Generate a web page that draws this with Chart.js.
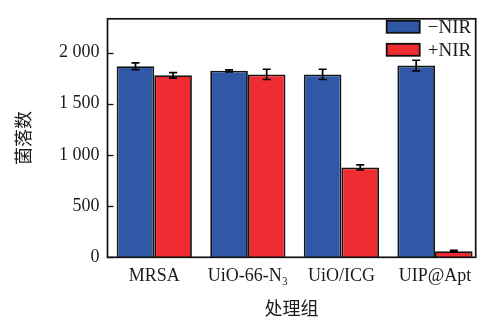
<!DOCTYPE html>
<html>
<head>
<meta charset="utf-8">
<script src="https://cdn.jsdelivr.net/npm/chart.js@4/dist/chart.umd.min.js"></script>
<style>
  html, body { margin: 0; padding: 0; background: #ffffff; }
  #wrap { width: 485px; height: 320px; position: relative; }
</style>
</head>
<body>
<div id="wrap"><canvas id="c" width="485" height="320"></canvas></div>
<script>
// Treatment groups (x axis)
const groups = ['MRSA', 'UiO-66-N\u2083', 'UiO/ICG', 'UIP@Apt'];
// Colony counts without / with near-infrared irradiation
const noNir = [1866, 1822, 1787, 1873];
const withNir = [1778, 1787, 878, 60];
// Standard deviations shown as error bars
const noNirErr = [33, 10, 50, 52];
const withNirErr = [27, 50, 25, 8];
// Y axis ticks
const yTicks = [0, 500, 1000, 1500, 2000];
const yMax = 2330;

const serif = "'Liberation Serif', 'Times New Roman', 'DejaVu Serif', serif";
const cjk = "'Noto Sans CJK SC', 'Noto Sans', sans-serif";
const ink = '#1a1a1a';

const toPoints = arr => arr.map((v, i) => ({ x: i, y: v }));

const errorBars = {
  id: 'errorBars',
  afterDatasetsDraw(chart) {
    const ctx = chart.ctx;
    const ys = chart.scales.y;
    ctx.save();
    ctx.strokeStyle = '#000';
    ctx.lineWidth = 1.7;
    chart.data.datasets.forEach((ds, di) => {
      const meta = chart.getDatasetMeta(di);
      meta.data.forEach((bar, i) => {
        const v = ds.data[i].y;
        const e = ds.errors[i];
        const top = ys.getPixelForValue(v + e);
        const bot = ys.getPixelForValue(v - e);
        const cap = 4;
        ctx.beginPath();
        ctx.moveTo(bar.x, top); ctx.lineTo(bar.x, bot);
        ctx.moveTo(bar.x - cap, top); ctx.lineTo(bar.x + cap, top);
        ctx.moveTo(bar.x - cap, bot); ctx.lineTo(bar.x + cap, bot);
        ctx.stroke();
      });
    });
    ctx.restore();
  }
};

const frameAndTicks = {
  id: 'frameAndTicks',
  afterDraw(chart) {
    const { ctx, chartArea: a } = chart;
    const ys = chart.scales.y;
    ctx.save();
    ctx.strokeStyle = '#111';
    ctx.lineWidth = 1.7;
    ctx.strokeRect(a.left, a.top, a.right - a.left, a.bottom - a.top);
    ctx.lineWidth = 1.3;
    ys.ticks.forEach(t => {
      const y = Math.round(ys.getPixelForValue(t.value)) + 0.5;
      ctx.beginPath();
      ctx.moveTo(a.left, y);
      ctx.lineTo(a.left + 6, y);
      ctx.stroke();
    });
    ctx.restore();
  }
};

const insideLegend = {
  id: 'insideLegend',
  afterDraw(chart) {
    const { ctx, chartArea: a } = chart;
    ctx.save();
    const bx = a.right - 89;
    chart.data.datasets.forEach((ds, i) => {
      const by = a.top + 2 + i * 23;
      ctx.fillStyle = ds.backgroundColor;
      ctx.fillRect(bx, by, 33, 12);
      ctx.strokeStyle = '#111';
      ctx.lineWidth = 1.8;
      ctx.strokeRect(bx, by, 33, 12);
      ctx.fillStyle = ink;
      ctx.font = '19px ' + serif;
      ctx.textBaseline = 'middle';
      ctx.textAlign = 'left';
      ctx.fillText(ds.label, bx + 41, by + 7);
    });
    ctx.restore();
  }
};

new Chart(document.getElementById('c'), {
  type: 'bar',
  data: {
    datasets: [
      {
        label: '\u2212NIR',
        data: toPoints(noNir),
        errors: noNirErr,
        backgroundColor: '#3058a6',
        borderColor: '#151515',
        borderWidth: 1.8
      },
      {
        label: '+NIR',
        data: toPoints(withNir),
        errors: withNirErr,
        backgroundColor: '#ee2c31',
        borderColor: '#151515',
        borderWidth: 1.8
      }
    ]
  },
  options: {
    responsive: false,
    animation: false,
    events: [],
    layout: { padding: { left: 0, right: 9.3, top: 13.3, bottom: 0 } },
    categoryPercentage: 0.804,
    barPercentage: 1.0,
    plugins: {
      legend: { display: false },
      tooltip: { enabled: false }
    },
    scales: {
      x: {
        type: 'linear',
        offset: false,
        min: -0.5,
        max: 3.435,
        grid: { display: false, drawTicks: false },
        border: { display: false },
        afterBuildTicks: s => { s.ticks = groups.map((g, i) => ({ value: i })); },
        afterFit: s => { s.height = 62.7; },
        ticks: {
          autoSkip: false,
          maxRotation: 0,
          padding: 8,
          color: ink,
          font: { family: serif, size: 18 },
          callback: v => groups[v]
        },
        title: {
          display: true,
          text: '处理组',
          color: ink,
          font: { family: cjk, size: 18 },
          padding: { top: 0, bottom: 1 }
        }
      },
      y: {
        min: 0,
        max: yMax,
        grid: { display: false, drawTicks: false },
        border: { display: false },
        afterBuildTicks: s => { s.ticks = yTicks.map(v => ({ value: v })); },
        afterFit: s => { s.width = 107.5; },
        ticks: {
          padding: 8,
          color: ink,
          font: { family: serif, size: 18 },
          callback: v => String(v).replace(/\B(?=(\d{3})+(?!\d))/g, ' ')
        },
        title: {
          display: true,
          text: '菌落数',
          color: ink,
          font: { family: cjk, size: 18 },
          padding: { top: 12, bottom: 0 }
        }
      }
    }
  },
  plugins: [errorBars, frameAndTicks, insideLegend]
});
</script>
</body>
</html>
